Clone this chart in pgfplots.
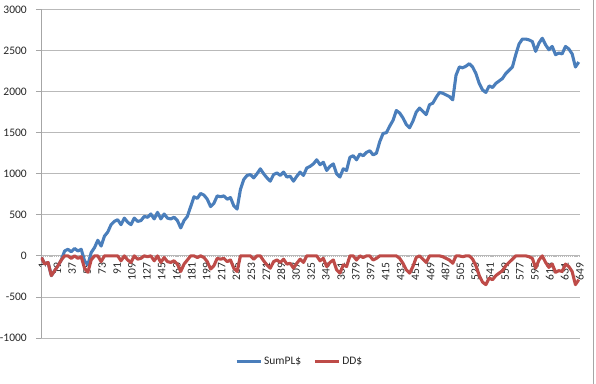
\documentclass[border=0pt]{standalone}
\usepackage{fontspec}
\setmainfont{Carlito}
\usepackage{pgfplots}
\pgfplotsset{compat=1.18}
\usepackage{pgfplotstable}
\definecolor{bl}{RGB}{74,126,187}
\definecolor{rd}{RGB}{190,75,72}
\pgfplotstableread{
i s d
1 -20 -20
5 -100 -100
9 -80 -80
13 -240 -240
17 -180 -180
21 -120 -120
25 -50 -50
29 60 0
33 80 0
37 50 -30
41 90 0
45 60 -30
49 80 -10
53 -60 -150
57 -110 -200
61 40 -50
65 100 0
69 190 0
73 120 -70
77 240 0
81 290 0
85 380 0
89 420 0
93 440 0
97 380 -60
101 460 0
105 410 -50
109 380 -80
113 460 0
117 420 -40
121 430 -30
125 480 0
129 470 -10
133 510 0
137 450 -60
141 530 0
145 450 -80
149 510 -20
153 460 -70
157 450 -80
161 470 -60
165 430 -100
169 340 -190
173 430 -100
177 480 -50
181 600 0
185 720 0
189 700 -20
193 760 0
197 740 -20
201 690 -70
205 600 -160
209 640 -120
213 730 -30
217 720 -40
221 730 -30
225 690 -70
229 710 -50
233 610 -150
237 570 -190
241 810 0
245 930 0
249 980 0
253 990 0
257 950 -40
261 1000 0
265 1060 0
269 1000 -60
273 950 -110
277 910 -150
281 990 -70
285 1010 -50
289 980 -80
293 1020 -40
297 960 -100
301 970 -90
305 910 -150
309 970 -90
313 1020 -40
317 980 -80
321 1070 0
325 1090 0
329 1120 0
333 1170 0
337 1110 -60
341 1140 -30
345 1040 -130
349 1090 -80
353 1120 -50
357 1000 -170
361 960 -210
365 1060 -110
369 1040 -130
373 1200 0
377 1220 0
381 1170 -50
385 1240 0
389 1220 -20
393 1260 0
397 1280 0
401 1230 -50
405 1250 -30
409 1390 0
413 1490 0
417 1500 0
421 1580 0
425 1650 0
429 1770 0
433 1740 -30
437 1680 -90
441 1600 -170
445 1560 -210
449 1640 -130
453 1750 -20
457 1800 0
461 1760 -40
465 1720 -80
469 1840 0
473 1860 0
477 1930 0
481 1990 0
485 1980 -10
489 1960 -30
493 1940 -50
497 1900 -90
501 2200 0
505 2300 0
509 2290 -10
513 2310 0
517 2340 0
521 2300 -40
525 2220 -120
529 2100 -240
533 2020 -320
537 1990 -350
541 2070 -270
545 2050 -290
549 2100 -240
553 2130 -210
557 2160 -180
561 2220 -120
565 2260 -80
569 2300 -40
573 2450 0
577 2580 0
581 2640 0
585 2640 0
589 2630 -10
593 2610 -30
597 2490 -150
601 2590 -50
605 2650 0
609 2570 -80
613 2510 -140
617 2550 -100
621 2450 -200
625 2470 -180
629 2460 -190
633 2550 -100
637 2520 -130
641 2460 -190
645 2300 -350
649 2360 -290
}\data

\begin{document}
\begin{tikzpicture}
\useasboundingbox (-41bp,-46bp) rectangle (555bp,338bp);
\begin{axis}[
 scale only axis, width=539bp, height=328.5bp,
 xmin=0.5, xmax=650.5, ymin=-1000, ymax=3000,
 axis x line=middle, axis y line=left,
 axis line style={-},
 y axis line style={draw=gray!70, line width=0.8pt},
 x axis line style={draw=gray!55, line width=2.2pt, dash pattern=on 1.2bp off 0.9bp},
 hide obscured x ticks=false, hide obscured y ticks=false,
 xtick={1,19,...,649},
 xtick style={draw=none},
 xticklabel style={rotate=90, anchor=east, inner sep=1.5bp, yshift=-1bp},
 ytick={-1000,-500,...,3000},
 ytick style={draw=gray!70, line width=0.8pt},
 tick align=outside, major tick length=5bp,
 yticklabel style={anchor=east, inner sep=0pt, xshift=-9bp},
 ymajorgrids, grid style={gray!55, line width=0.8pt},
 /pgf/number format/assume math mode=true,
 /pgf/number format/1000 sep={},
 tick label style={font=\fontsize{11.5bp}{13bp}\selectfont, text=black!85},
 legend style={at={(0.48,-0.073)}, anchor=center, draw=none, fill=none,
   legend columns=2, /tikz/every even column/.append style={column sep=10bp},
   font=\fontsize{11.5bp}{13bp}\selectfont, text=black!85, inner sep=0pt},
 legend image code/.code={\draw[#1, line width=3pt] (0bp,0bp) -- (24bp,0bp);},
]
\addplot[bl, line width=3.1pt, line join=round] table[x=i,y=s]{\data};
\addlegendentry{SumPL\$}
\addplot[rd, line width=3.1pt, line join=round] table[x=i,y=d]{\data};
\addlegendentry{DD\$}
\end{axis}
\draw[gray!70, line width=0.8pt] (552bp,-46bp) -- (552bp,338bp);
\end{tikzpicture}
\end{document}
